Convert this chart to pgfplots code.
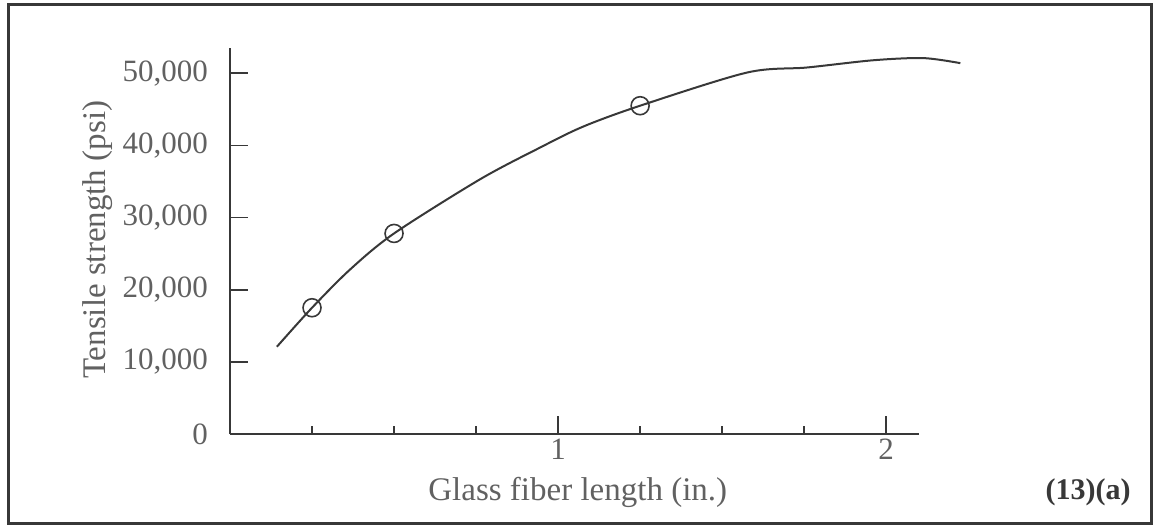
\documentclass[border=0pt]{standalone}
\usepackage{pgfplots}
\pgfplotsset{compat=1.18}
\usepackage{fontspec}
\setmainfont{Liberation Serif}
\definecolor{ink}{gray}{0.22}
\definecolor{txt}{gray}{0.38}
\begin{document}
\begin{tikzpicture}
\path (-115pt,-46.5pt) rectangle (462.5pt,217pt);
\draw[line width=1.5pt, color=ink] (-110.5pt,-44.5pt) rectangle (460.5pt,215pt);
\begin{axis}[
  at={(0,0)}, anchor=south west,
  scale only axis, width=344.5pt, height=193pt,
  xmin=0, xmax=2.1, ymin=0, ymax=53500,
  axis lines*=left,
  axis line style={ink, line width=0.9pt},
  clip=false,
  xtick={1,2}, xticklabels={1,2},
  minor xtick={0.25,0.5,0.75,1.25,1.5,1.75},
  ytick={0,10000,20000,30000,40000,50000},
  yticklabels={0,{10,000},{20,000},{30,000},{40,000},{50,000}},
  scaled y ticks=false,
  tick align=inside,
  major tick length=9pt, minor tick length=4pt,
  tick style={ink, line width=0.8pt},
  /pgf/number format/assume math mode=true,
  ticklabel style={font=\fontsize{15.5}{17}\selectfont, text=txt},
  yticklabel style={xshift=-7.5pt},
  xticklabel style={yshift=1pt},
  xlabel={Glass fiber length (in.)},
  ylabel={Tensile strength (psi)},
  label style={font=\fontsize{16.5}{18}\selectfont, text=txt},
  xlabel style={at={(axis cs:1.06,0)}, anchor=center, yshift=-29pt},
  ylabel style={at={(axis cs:-0.402,26900)}, anchor=center},
]
\addplot[smooth, ink, line width=1pt] coordinates {
  (0.143,12100) (0.25,17500) (0.366,22800) (0.5,27800) (0.762,35300)
  (0.945,39700) (1.076,42600) (1.25,45500) (1.576,50100) (1.759,50800)
  (1.96,51800) (2.113,52100) (2.226,51400)
};
\addplot[only marks, mark=o, mark size=4.5pt, ink, mark options={fill=white, line width=0.8pt}] coordinates {
  (0.25,17500) (0.5,27800) (1.25,45500)
};
\end{axis}
\node[font=\fontsize{15}{17}\selectfont\bfseries, text=ink] at (429pt,-29pt) {(13)(a)};
\end{tikzpicture}
\end{document}
